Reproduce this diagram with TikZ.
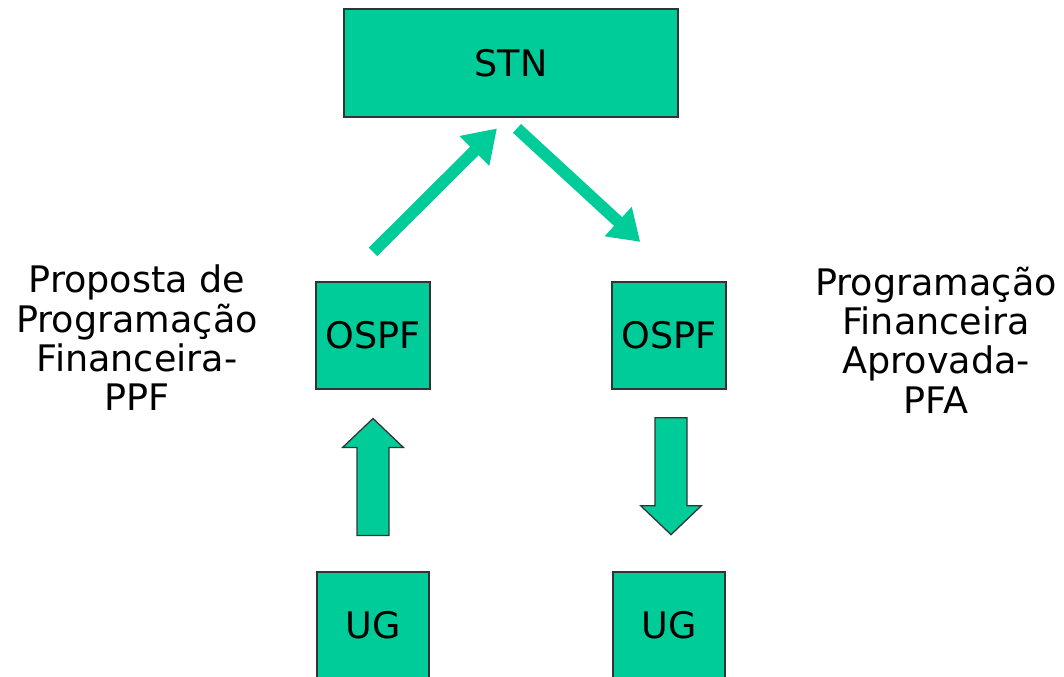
\documentclass[tikz,border=0pt]{standalone}
\usepackage{fontspec}
\setmainfont{DejaVu Sans}
\usepackage{tikz}
\usetikzlibrary{positioning, calc, arrows.meta}

\definecolor{stngreen}{RGB}{0,204,153}
\newcommand{\bigfont}{\fontsize{26}{28}\selectfont}

\begin{document}
\begin{tikzpicture}[
		every box/.style={rectangle, draw=black!80, fill=stngreen, line width=0.9pt, font=\bigfont, inner sep=0pt},
		flow/.style={draw=stngreen, line width=8.5pt},
		block arrow/.style={fill=stngreen, draw=black!80, line width=0.9pt, line join=miter},
		side label/.style={align=center, font=\bigfont}
	]

	\useasboundingbox (0,0) rectangle (26.6,-16.925);
	\clip (0,0) rectangle (26.6,-16.925);

	\node [every box, minimum width=8.35cm, minimum height=2.7cm] (stn) at (12.775, -1.575) {STN};

	\foreach \n/\x in {L/9.325, R/16.725}
	{
		\node [every box, minimum width=2.85cm, minimum height=2.675cm] (ospf\n) at (\x, -8.39) {OSPF};
		\node [every box, minimum width=2.8cm, minimum height=2.675cm] (ug\n) at (\x, -15.64) {UG};
	}

	\node [side label] (ppf) at (3.425, -8.45) {Proposta de\\Programação\\Financeira-\\PPF};
	\node [side label] (pfa) at (23.4, -8.5) {Programação\\Financeira\\Aprovada-\\PFA};

	% diagonal arrows to and from STN
	\coordinate (upStart) at ($(ospfL.north)+(0, 0.74)$);
	\coordinate (upTip) at ($(stn.south)+(-0.35, -0.27)$);
	\coordinate (downStart) at ($(stn.south)+(0.15, -0.27)$);
	\coordinate (downTip) at ($(ospfR.north)+(-0.72, 0.99)$);
	\draw [flow, -{Triangle[length=8mm, width=10mm]}] (upStart) -- (upTip);
	\draw [flow, -{Triangle[length=7.5mm, width=9.5mm]}] (downStart) -- (downTip);

	% block arrows between UG and OSPF
	\coordinate (upBase) at ($(ugL.north)+(0, 0.9)$);
	\draw [block arrow] (upBase) ++(-0.4, 0) -- ++(0.8, 0) -- ++(0, 2.2) -- ++(0.36, 0)
		-- ++(-0.76, 0.725) -- ++(-0.76, -0.725) -- ++(0.36, 0) -- cycle;

	\coordinate (downPoint) at ($(ugR.north)+(0.05, 0.92)$);
	\draw [block arrow] (downPoint) -- ++(0.76, 0.725) -- ++(-0.36, 0) -- ++(0, 2.2)
		-- ++(-0.8, 0) -- ++(0, -2.2) -- ++(-0.36, 0) -- cycle;
\end{tikzpicture}
\end{document}
